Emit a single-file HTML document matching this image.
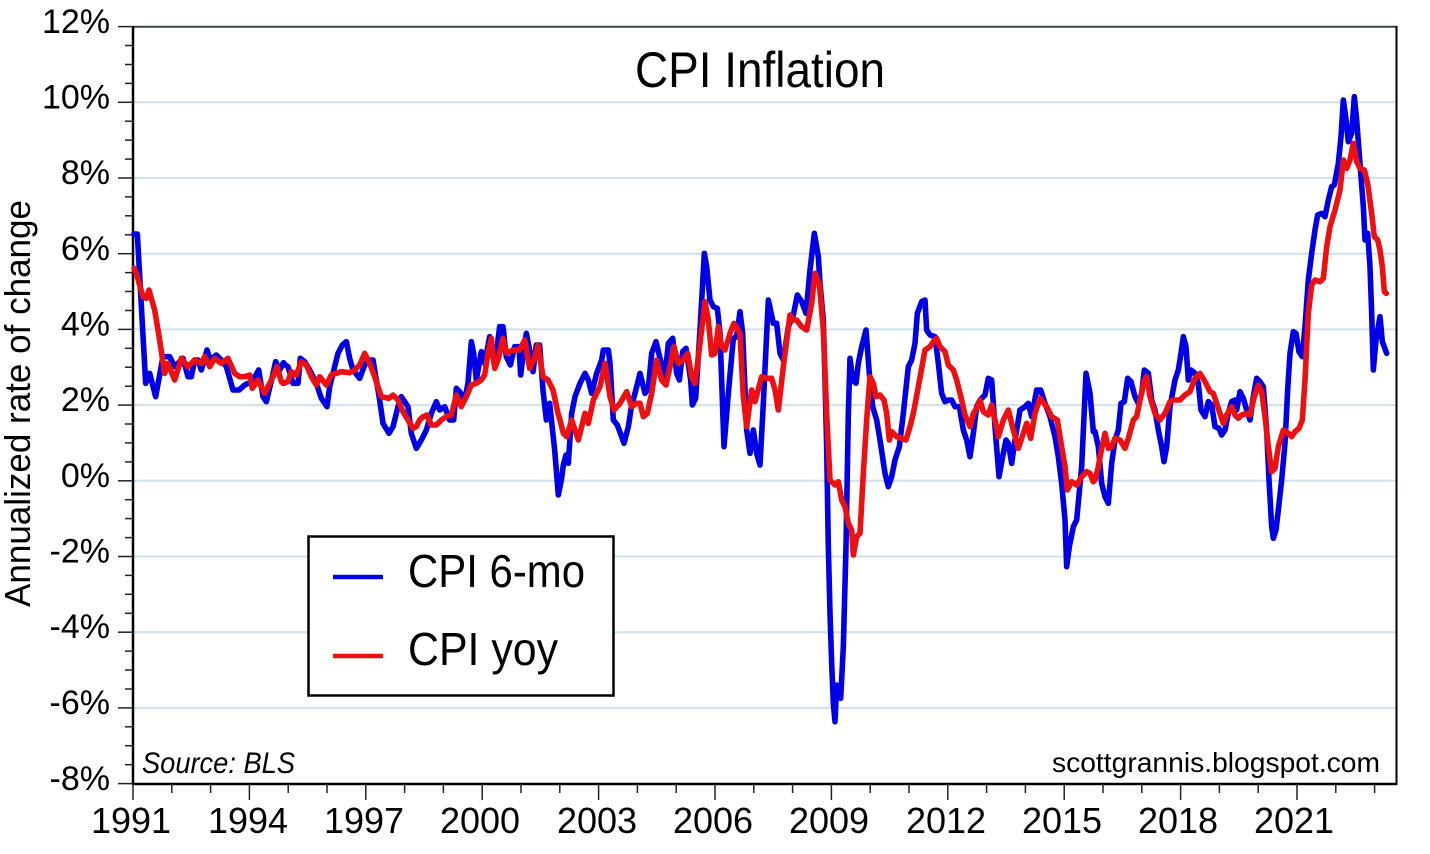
<!DOCTYPE html>
<html><head><meta charset="utf-8"><style>
html,body{margin:0;padding:0;background:#fff;}
svg{display:block;font-family:"Liberation Sans",sans-serif;}
</style></head><body>
<svg width="1430" height="854" viewBox="0 0 1430 854" xmlns="http://www.w3.org/2000/svg">
<rect width="1430" height="854" fill="#fff"/>
<!-- grid -->
<g stroke="#cfe0ee" stroke-width="2">
<line x1="134" x2="1396" y1="102.3" y2="102.3"/>
<line x1="134" x2="1396" y1="178" y2="178"/>
<line x1="134" x2="1396" y1="253.7" y2="253.7"/>
<line x1="134" x2="1396" y1="329.4" y2="329.4"/>
<line x1="134" x2="1396" y1="405.1" y2="405.1"/>
<line x1="134" x2="1396" y1="480.8" y2="480.8"/>
<line x1="134" x2="1396" y1="556.5" y2="556.5"/>
<line x1="134" x2="1396" y1="632.2" y2="632.2"/>
<line x1="134" x2="1396" y1="707.9" y2="707.9"/>
</g>
<!-- frame -->
<line x1="133" x2="1397" y1="26.8" y2="26.8" stroke="#3a4652" stroke-width="2"/>
<line x1="1396.5" x2="1396.5" y1="26" y2="785" stroke="#000" stroke-width="2"/>
<line x1="132" x2="1397" y1="784" y2="784" stroke="#000" stroke-width="2.5"/>
<line x1="133" x2="133" y1="26" y2="785" stroke="#000" stroke-width="2.5"/>
<!-- y ticks -->
<g stroke="#222" stroke-width="1.5">
<line x1="118" x2="133" y1="26.6" y2="26.6"/><line x1="125" x2="133" y1="45.5" y2="45.5"/><line x1="125" x2="133" y1="64.5" y2="64.5"/><line x1="125" x2="133" y1="83.4" y2="83.4"/>
<line x1="118" x2="133" y1="102.3" y2="102.3"/><line x1="125" x2="133" y1="121.2" y2="121.2"/><line x1="125" x2="133" y1="140.1" y2="140.1"/><line x1="125" x2="133" y1="159.1" y2="159.1"/>
<line x1="118" x2="133" y1="178" y2="178"/><line x1="125" x2="133" y1="196.9" y2="196.9"/><line x1="125" x2="133" y1="215.8" y2="215.8"/><line x1="125" x2="133" y1="234.8" y2="234.8"/>
<line x1="118" x2="133" y1="253.7" y2="253.7"/><line x1="125" x2="133" y1="272.6" y2="272.6"/><line x1="125" x2="133" y1="291.5" y2="291.5"/><line x1="125" x2="133" y1="310.5" y2="310.5"/>
<line x1="118" x2="133" y1="329.4" y2="329.4"/><line x1="125" x2="133" y1="348.3" y2="348.3"/><line x1="125" x2="133" y1="367.2" y2="367.2"/><line x1="125" x2="133" y1="386.2" y2="386.2"/>
<line x1="118" x2="133" y1="405.1" y2="405.1"/><line x1="125" x2="133" y1="424" y2="424"/><line x1="125" x2="133" y1="442.9" y2="442.9"/><line x1="125" x2="133" y1="461.9" y2="461.9"/>
<line x1="118" x2="133" y1="480.8" y2="480.8"/><line x1="125" x2="133" y1="499.7" y2="499.7"/><line x1="125" x2="133" y1="518.6" y2="518.6"/><line x1="125" x2="133" y1="537.6" y2="537.6"/>
<line x1="118" x2="133" y1="556.5" y2="556.5"/><line x1="125" x2="133" y1="575.4" y2="575.4"/><line x1="125" x2="133" y1="594.3" y2="594.3"/><line x1="125" x2="133" y1="613.3" y2="613.3"/>
<line x1="118" x2="133" y1="632.2" y2="632.2"/><line x1="125" x2="133" y1="651.1" y2="651.1"/><line x1="125" x2="133" y1="670" y2="670"/><line x1="125" x2="133" y1="689" y2="689"/>
<line x1="118" x2="133" y1="707.9" y2="707.9"/><line x1="125" x2="133" y1="726.8" y2="726.8"/><line x1="125" x2="133" y1="745.7" y2="745.7"/><line x1="125" x2="133" y1="764.7" y2="764.7"/>
<line x1="118" x2="133" y1="783.6" y2="783.6"/>
</g>
<!-- x ticks -->
<g stroke="#222" stroke-width="1.5">
<line x1="133" x2="133" y1="784" y2="800"/><line x1="171.8" x2="171.8" y1="784" y2="793"/><line x1="210.6" x2="210.6" y1="784" y2="793"/>
<line x1="249.4" x2="249.4" y1="784" y2="800"/><line x1="288.2" x2="288.2" y1="784" y2="793"/><line x1="327" x2="327" y1="784" y2="793"/>
<line x1="365.8" x2="365.8" y1="784" y2="800"/><line x1="404.6" x2="404.6" y1="784" y2="793"/><line x1="443.4" x2="443.4" y1="784" y2="793"/>
<line x1="482.2" x2="482.2" y1="784" y2="800"/><line x1="521" x2="521" y1="784" y2="793"/><line x1="559.8" x2="559.8" y1="784" y2="793"/>
<line x1="598.6" x2="598.6" y1="784" y2="800"/><line x1="637.4" x2="637.4" y1="784" y2="793"/><line x1="676.2" x2="676.2" y1="784" y2="793"/>
<line x1="715" x2="715" y1="784" y2="800"/><line x1="753.8" x2="753.8" y1="784" y2="793"/><line x1="792.6" x2="792.6" y1="784" y2="793"/>
<line x1="831.4" x2="831.4" y1="784" y2="800"/><line x1="870.2" x2="870.2" y1="784" y2="793"/><line x1="909" x2="909" y1="784" y2="793"/>
<line x1="947.8" x2="947.8" y1="784" y2="800"/><line x1="986.6" x2="986.6" y1="784" y2="793"/><line x1="1025.4" x2="1025.4" y1="784" y2="793"/>
<line x1="1064.2" x2="1064.2" y1="784" y2="800"/><line x1="1103" x2="1103" y1="784" y2="793"/><line x1="1141.8" x2="1141.8" y1="784" y2="793"/>
<line x1="1180.6" x2="1180.6" y1="784" y2="800"/><line x1="1219.4" x2="1219.4" y1="784" y2="793"/><line x1="1258.2" x2="1258.2" y1="784" y2="793"/>
<line x1="1297" x2="1297" y1="784" y2="800"/><line x1="1335.8" x2="1335.8" y1="784" y2="793"/><line x1="1374.6" x2="1374.6" y1="784" y2="793"/>
</g>
<!-- y labels -->
<g font-size="34" text-anchor="end" fill="#000">
<text x="110" y="33">12%</text>
<text x="110" y="108.5">10%</text>
<text x="110" y="184">8%</text>
<text x="110" y="260">6%</text>
<text x="110" y="335.5">4%</text>
<text x="110" y="411">2%</text>
<text x="110" y="487">0%</text>
<text x="110" y="562.5">-2%</text>
<text x="110" y="638">-4%</text>
<text x="110" y="714">-6%</text>
<text x="110" y="790">-8%</text>
</g>
<!-- x labels -->
<g font-size="36" text-anchor="middle" fill="#000">
<text x="131" y="833">1991</text>
<text x="248" y="833">1994</text>
<text x="364" y="833">1997</text>
<text x="480" y="833">2000</text>
<text x="597" y="833">2003</text>
<text x="713" y="833">2006</text>
<text x="829" y="833">2009</text>
<text x="946" y="833">2012</text>
<text x="1062" y="833">2015</text>
<text x="1178" y="833">2018</text>
<text x="1294" y="833">2021</text>
</g>
<!-- axis title -->
<text transform="translate(30,403.5) rotate(-90)" font-size="36" text-anchor="middle" textLength="407" lengthAdjust="spacingAndGlyphs">Annualized rate of change</text>
<!-- title -->
<text x="635" y="87" font-size="50" textLength="250" lengthAdjust="spacingAndGlyphs">CPI Inflation</text>
<!-- source -->
<text x="142" y="773" font-size="30" font-style="italic" textLength="153" lengthAdjust="spacingAndGlyphs">Source: BLS</text>
<text x="1052" y="772" font-size="28" textLength="328" lengthAdjust="spacingAndGlyphs">scottgrannis.blogspot.com</text>

<!-- series -->
<g fill="none" stroke-linejoin="round" stroke-linecap="round">
<g stroke="#0000e8" stroke-width="5.6">
<polyline vector-effect="non-scaling-stroke" transform="translate(133,230) scale(0.33333)" points="3,12 13,12 38,460 50,430 68,500 90,380 110,380 125,410 150,385 165,440 175,440 185,390 195,390 205,420 222,360 232,390 250,375 265,390 280,410 300,480 318,480 335,465 345,460 355,460 377,420 390,500 400,515 418,440 428,395 440,420 452,398"/>
<polyline vector-effect="non-scaling-stroke" transform="translate(283,300) scale(0.33333)" points="0,190 15,200 30,250 45,250 52,175 65,185 80,210 100,250 115,295 132,320 140,260 155,200 165,160 178,135 190,125 200,175 210,210 230,235 245,195 258,180 270,180 280,240 290,300 300,370 318,400 330,380 345,320 355,290 365,305 375,320 385,400 400,445 415,420 430,390 445,340 460,305 470,330 485,320 500,360 512,360 520,265 530,275 545,300 555,250 565,125 572,160 580,240 595,155 605,190 620,110 635,200 650,80 660,80 670,170 682,195 695,140 708,140 713,225 722,150 730,100 740,150 750,215 760,135 770,135 780,270 790,360 800,310 815,450 826,585 835,540"/>
<polyline vector-effect="non-scaling-stroke" transform="translate(560,220) scale(0.33333)" points="4,780 10,735 18,705 25,730 35,580 45,530 60,490 75,460 85,480 95,520 110,460 125,420 130,390 145,390 150,430 160,600 172,615 185,650 192,670 205,620 215,555 225,520 240,460 255,520 265,505 275,400 288,365 300,415 315,470 325,370 338,355 350,460 358,480 368,395 378,385 392,480 397,555 407,535 420,330 433,100 440,140 450,240 460,260 472,265 480,340 492,680 505,520 515,410 520,355 530,350 540,275 548,340 560,630 570,700 580,630 590,700 600,735 610,550 625,240 640,310 650,310 660,400 670,420 685,320 700,285 712,225 725,245 738,280 750,150 763,40 775,110"/>
<polyline vector-effect="non-scaling-stroke" transform="translate(820,280) scale(0.33333)" points="-5,-70 0,10 10,120 15,300 20,500 25,800 30,1000 35,1150 40,1270 45,1325 50,1215 55,1220 62,1255 70,1100 78,800 85,400 90,235 98,300 108,310 115,250 125,200 138,150 148,280 158,380 170,420 180,480 195,580 205,620 215,590 225,540 238,500 250,400 265,260 275,240 285,190 292,100 305,65 315,60 320,150 330,165 345,170 355,250 365,340 375,365 385,360 395,360 405,380 418,380 430,450 440,480 450,530 460,460 470,380 480,360 495,345 505,295 515,300 525,440 537,590 548,530 558,480 565,490 575,550 585,480 600,390 615,380 625,370 635,410 650,330 662,330 675,370 690,410 705,470 715,530 725,610 735,720 740,860 748,800 760,740 770,720 785,560 798,280 810,340 820,455"/>
<polyline vector-effect="non-scaling-stroke" transform="translate(1095,80) scale(0.33333)" points="-5,1055 0,1055 10,1100 20,1210 30,1250 40,1270 50,1150 60,1080 70,1050 78,970 88,965 98,895 108,905 120,950 130,970 140,940 148,870 160,880 170,960 180,990 190,1050 200,1100 207,1145 215,1100 225,980 240,900 250,870 258,820 265,770 273,800 280,900 288,870 300,880 310,910 318,990 330,1010 340,965 350,975 360,1040 372,1045 380,1065 390,1050 400,1000 410,965 420,960 425,990 435,935 445,955 455,990 465,1020 475,950 485,895 495,905 505,920 515,1050 522,1200 530,1340 535,1375 543,1350 550,1290 560,1200 570,1090 578,930 585,820 595,755 603,760 612,815 622,830 630,740 640,600 650,520 660,450 668,405 680,400 690,410 700,360 710,320 718,315 730,250 738,170 745,60 752,110 760,185 770,160 778,50 785,120 795,250 805,380 810,480 818,460 825,560 830,700 835,870 843,780 855,710 862,785 875,820"/>
</g>
<g stroke="#ee1010" stroke-width="5.6">
<polyline vector-effect="non-scaling-stroke" transform="translate(133,230) scale(0.33333)" points="3,115 10,130 30,200 40,205 48,180 65,240 80,330 95,430 105,400 125,450 145,385 165,410 185,390 205,400 215,380 230,410 245,385 265,400 285,385 305,430 320,440 335,440 350,435 358,475 375,450 395,490 420,440 432,410 445,455 452,460"/>
<polyline vector-effect="non-scaling-stroke" transform="translate(283,300) scale(0.33333)" points="0,250 15,245 25,215 40,225 55,185 70,195 85,230 100,255 110,230 130,255 145,225 160,220 175,215 200,218 215,210 230,195 245,160 260,190 275,230 295,290 318,295 330,285 345,300 360,335 375,360 390,385 400,380 410,360 420,350 432,345 445,375 460,375 475,360 490,350 505,345 520,285 535,320 550,290 565,255 580,250 595,240 605,225 615,160 625,115 635,205 645,180 660,115 672,160 690,150 710,150 725,120 740,205 755,175 765,135 780,230 795,240 810,270 825,340 831,360"/>
<polyline vector-effect="non-scaling-stroke" transform="translate(560,220) scale(0.33333)" points="0,600 10,640 20,650 35,600 45,630 55,660 65,620 75,580 85,610 100,540 120,500 135,430 150,530 162,570 180,550 200,515 215,560 230,550 240,550 250,590 262,580 275,520 290,420 305,480 318,495 330,440 342,380 355,430 370,420 383,400 395,470 405,490 420,370 435,245 445,300 455,405 465,400 475,320 485,380 495,390 510,340 522,310 540,340 550,530 560,620 575,510 585,545 605,470 620,475 635,475 645,510 655,570 670,440 690,285 700,300 710,300 725,320 740,330 755,250 765,160 775,185"/>
<polyline vector-effect="non-scaling-stroke" transform="translate(820,280) scale(0.33333)" points="-2,10 10,150 20,400 30,600 45,615 55,605 65,660 75,680 85,730 95,750 100,825 110,770 120,760 130,580 140,420 150,290 160,310 168,350 180,345 192,360 200,400 208,480 215,455 230,470 245,475 258,480 270,440 280,400 295,320 315,210 330,200 340,185 350,175 360,200 375,215 385,255 400,270 410,300 425,360 435,405 450,440 460,400 470,385 480,360 490,395 505,405 515,375 525,420 535,470 550,420 565,390 580,450 595,505 610,460 620,430 632,475 645,400 660,355 680,380 695,410 712,420 725,500 735,560 742,630 755,605 770,615 785,590 800,575 810,580 820,605"/>
<polyline vector-effect="non-scaling-stroke" transform="translate(1095,80) scale(0.33333)" points="-5,1205 0,1200 10,1160 20,1105 30,1060 40,1105 50,1100 60,1075 75,1080 90,1105 100,1075 115,1020 125,1010 135,960 148,900 155,890 165,950 180,1000 195,1020 210,1000 225,965 235,960 255,960 270,945 285,935 300,895 315,880 330,905 345,935 355,940 365,970 378,1010 385,1030 395,1005 410,980 420,1005 430,1015 440,1005 455,1000 465,1005 478,950 490,915 500,935 510,1010 520,1100 530,1175 540,1165 550,1100 565,1050 580,1060 590,1070 600,1055 612,1045 622,1020 630,900 640,700 650,615 660,600 675,605 685,595 695,500 705,440 720,390 735,330 745,240 755,265 765,240 775,190 785,245 795,265 808,270 818,310 830,400 838,470 848,480 855,510 862,560 868,635 874,640"/>
</g>
</g>

<!-- legend -->
<rect x="308.5" y="536.5" width="305" height="159" fill="#fff" stroke="#000" stroke-width="2.5"/>
<line x1="333" x2="383" y1="577" y2="577" stroke="#0000e8" stroke-width="4.5"/>
<line x1="333" x2="383" y1="656" y2="656" stroke="#ee1010" stroke-width="4.5"/>
<text x="408" y="587" font-size="46" textLength="177" lengthAdjust="spacingAndGlyphs">CPI 6-mo</text>
<text x="408" y="665" font-size="46" textLength="150" lengthAdjust="spacingAndGlyphs">CPI yoy</text>
</svg>
</body></html>
